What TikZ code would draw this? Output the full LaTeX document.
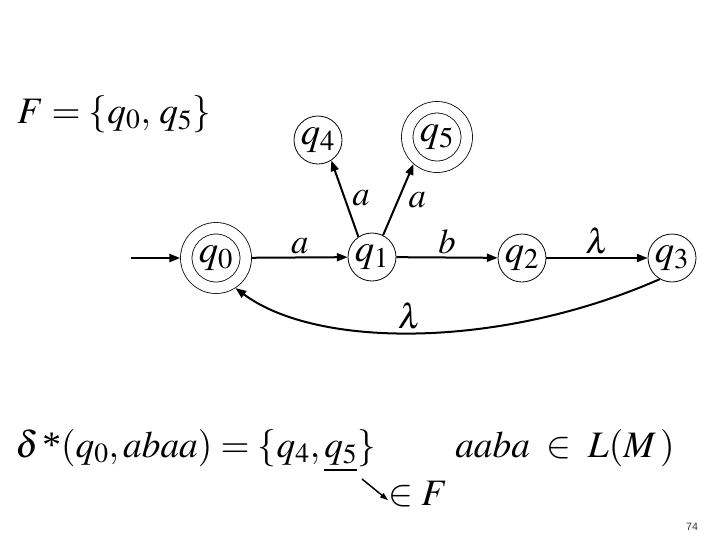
\documentclass[tikz,border=0pt]{standalone}
\usepackage{mathptmx}
\usepackage{fontspec}
\setmainfont{Liberation Serif}
\setsansfont{Liberation Sans}
\usetikzlibrary{arrows.meta, calc}

\begin{document}
\begin{tikzpicture}[x=0.75pt, y=-0.75pt,
  state/.style={circle, draw, line width=0.6pt, minimum size=36pt, inner sep=0pt,
                font=\fontsize{29}{32}\selectfont},
  accept/.style={state, double, double distance=8pt, minimum size=44.6pt, outer sep=4.6pt},
  trans/.style={-{Triangle[length=8pt, width=6pt]}, line width=1.5pt},
  lbl/.style={font=\fontsize{26}{30}\selectfont, inner sep=2pt},
  formula/.style={font=\fontsize{28}{32}\selectfont, inner sep=0pt, anchor=base west}]

\fill[white] (0,0) rectangle (720,540);
\useasboundingbox (0,0) rectangle (720,540);

% Final states
\node[formula] (finals) at (17,123) {$F = \{q_0,\, q_5\}$};

% States
\node[accept] (q0) at (216,258) {$q_0$};
\node[state]  (q1) at (372,257) {$q_1$};
\node[state]  (q2) at (522,258) {$q_2$};
\node[state]  (q3) at (672,258) {$q_3$};
\node[state]  (q4) at (318,140) {$q_4$};
\node[accept] (q5) at (437,137) {$q_5$};

% Initial arrow
\coordinate (start) at (131,258);
\draw[trans] (start) -- (q0);

% Transitions
\draw[trans] (q0) -- node[lbl, above] {$a$} (q1);
\draw[trans] (q1) -- node[lbl, above] {$b$} (q2);
\draw[trans] (q2) -- node[lbl, above] {$\lambda$} (q3);
\draw[trans] (q1.124) -- node[lbl, right=3pt] {$a$} (q4.-57);
\draw[trans] (q1.63) -- node[lbl, right=5pt] {$a$} (q5.-131);
\draw[trans] (q3.-120) .. controls (501,349) and (317,349) .. node[lbl, above, pos=0.52] {$\lambda$} (q0.-57);

% Extended transition function
\node[formula] (delta) at (15,457) {$\delta\,\mbox{*}(q_0, abaa) = \{q_4,\underline{q_5}\}$};
\node[formula] (accepted) at (455,457) {$aaba \;\in\; L(M\,)$};
\node[formula] (inF) at (388,505) {$\in F$};
\coordinate (ul) at (362,479);
\draw[-{Triangle[length=6pt, width=4pt]}, line width=1.1pt] (ul) -- ($(inF.west)!0.5!(inF.south west)$);

% Page number
\node[font=\sffamily\fontsize{8}{9}\selectfont, text=black!80] (pagenum) at (692,527) {74};

\end{tikzpicture}
\end{document}
